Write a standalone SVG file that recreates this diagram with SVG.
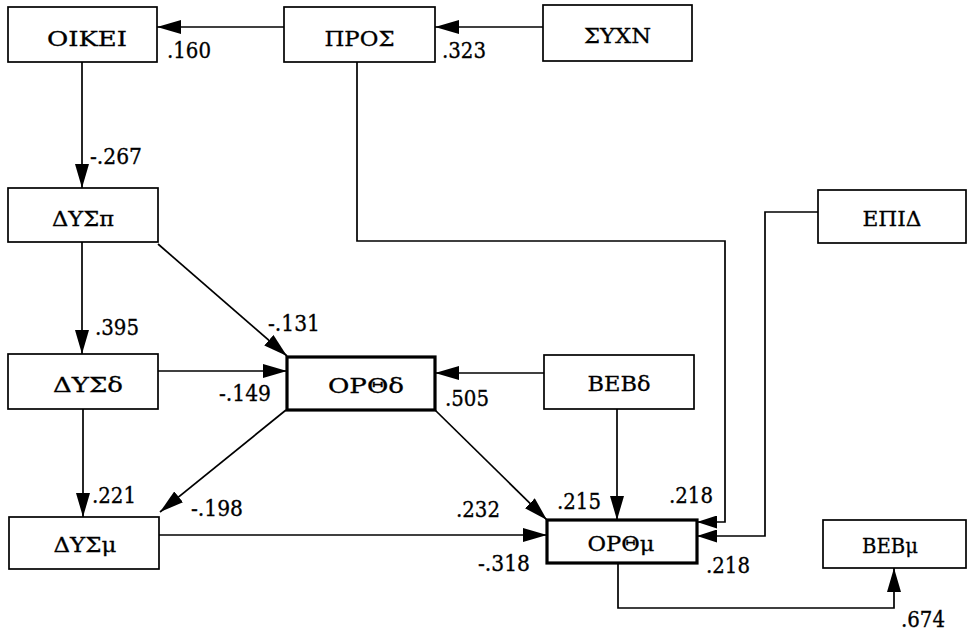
<svg xmlns="http://www.w3.org/2000/svg" width="974" height="634" viewBox="0 0 974 634">
<style>
.box{fill:#fff;stroke:#000;stroke-width:1.7}
.thick{stroke-width:3.2}
.ln{fill:none;stroke:#000;stroke-width:1.7}
</style>
<defs>
<marker id="ah" viewBox="0 0 24 14" refX="24" refY="7" markerWidth="24" markerHeight="14" markerUnits="userSpaceOnUse" orient="auto">
<path d="M0,0 L24,7 L0,14 z" fill="#000"/>
</marker>
<marker id="ahs" viewBox="0 0 20 13" refX="20" refY="6.5" markerWidth="20" markerHeight="13" markerUnits="userSpaceOnUse" orient="auto">
<path d="M0,0 L20,6.5 L0,13 z" fill="#000"/>
</marker>
</defs>
<rect width="974" height="634" fill="#fff"/>
<g id="connectors">
<line class="ln" x1="284" y1="27" x2="157" y2="27" marker-end="url(#ah)"/>
<line class="ln" x1="543" y1="27" x2="435" y2="27" marker-end="url(#ah)"/>
<line class="ln" x1="82" y1="62" x2="82" y2="188" marker-end="url(#ah)"/>
<line class="ln" x1="82" y1="242" x2="82" y2="354" marker-end="url(#ah)"/>
<line class="ln" x1="83" y1="409" x2="83" y2="517" marker-end="url(#ah)"/>
<line class="ln" x1="158" y1="244" x2="287" y2="356" marker-end="url(#ah)"/>
<line class="ln" x1="158" y1="371" x2="287" y2="371" marker-end="url(#ah)"/>
<line class="ln" x1="544" y1="373" x2="435" y2="373" marker-end="url(#ah)"/>
<line class="ln" x1="286" y1="410" x2="160" y2="512" marker-end="url(#ah)"/>
<line class="ln" x1="435" y1="410" x2="547" y2="520" marker-end="url(#ah)"/>
<line class="ln" x1="617" y1="409" x2="617" y2="520" marker-end="url(#ah)"/>
<line class="ln" x1="159" y1="535" x2="547" y2="535" marker-end="url(#ah)"/>
<polyline class="ln" points="357,62 357,241 725,241 725,522 697,522" marker-end="url(#ahs)"/>
<polyline class="ln" points="818,212 765,212 765,536 697,536" marker-end="url(#ahs)"/>
<polyline class="ln" points="618,563 618,608 894,608 894,568" marker-end="url(#ah)"/>
</g>
<g id="labels" font-family="DejaVu Serif, Liberation Serif, serif" font-size="23" fill="#000" stroke="#000" stroke-width="0.35">
<text x="167" y="58" textLength="44" lengthAdjust="spacingAndGlyphs">.160</text>
<text x="442" y="58" textLength="44" lengthAdjust="spacingAndGlyphs">.323</text>
<text x="90" y="164" textLength="52" lengthAdjust="spacingAndGlyphs">-.267</text>
<text x="95" y="335" textLength="44" lengthAdjust="spacingAndGlyphs">.395</text>
<text x="268" y="331" textLength="52" lengthAdjust="spacingAndGlyphs">-.131</text>
<text x="219" y="401" textLength="52" lengthAdjust="spacingAndGlyphs">-.149</text>
<text x="445" y="406" textLength="44" lengthAdjust="spacingAndGlyphs">.505</text>
<text x="92" y="503" textLength="44" lengthAdjust="spacingAndGlyphs">.221</text>
<text x="191" y="516" textLength="52" lengthAdjust="spacingAndGlyphs">-.198</text>
<text x="456" y="517" textLength="44" lengthAdjust="spacingAndGlyphs">.232</text>
<text x="557" y="509" textLength="44" lengthAdjust="spacingAndGlyphs">.215</text>
<text x="669" y="503" textLength="44" lengthAdjust="spacingAndGlyphs">.218</text>
<text x="478" y="571" textLength="52" lengthAdjust="spacingAndGlyphs">-.318</text>
<text x="706" y="573" textLength="44" lengthAdjust="spacingAndGlyphs">.218</text>
<text x="901" y="627" textLength="44" lengthAdjust="spacingAndGlyphs">.674</text>
</g>
<g font-family="DejaVu Serif, Liberation Serif, serif" font-size="21" fill="#000" stroke="#000" stroke-width="0.3" text-anchor="middle">
<g id="n-oikei"><rect class="box" x="8" y="7" width="149" height="55"/><text x="87" y="46" textLength="80" lengthAdjust="spacingAndGlyphs">ΟΙΚΕΙ</text></g>
<g id="n-pros"><rect class="box" x="284" y="7" width="151" height="55"/><text x="359.5" y="46" textLength="70" lengthAdjust="spacingAndGlyphs">ΠΡΟΣ</text></g>
<g id="n-sychn"><rect class="box" x="543" y="5" width="149" height="56"/><text x="617.5" y="43" textLength="67" lengthAdjust="spacingAndGlyphs">ΣΥΧΝ</text></g>
<g id="n-epid"><rect class="box" x="818" y="190" width="148" height="53"/><text x="892" y="226" textLength="59" lengthAdjust="spacingAndGlyphs">ΕΠΙΔ</text></g>
<g id="n-dyspi"><rect class="box" x="8" y="188" width="150" height="54"/><text x="83" y="226" textLength="62" lengthAdjust="spacingAndGlyphs">ΔΥΣπ</text></g>
<g id="n-dysd"><rect class="box" x="8" y="354" width="150" height="55"/><text x="88" y="392" textLength="70" lengthAdjust="spacingAndGlyphs">ΔΥΣδ</text></g>
<g id="n-orthd"><rect class="box thick" x="287" y="357" width="148" height="53"/><text x="366" y="393" textLength="76" lengthAdjust="spacingAndGlyphs">ΟΡΘδ</text></g>
<g id="n-bebd"><rect class="box" x="544" y="355" width="150" height="54"/><text x="619" y="391" textLength="63" lengthAdjust="spacingAndGlyphs">ΒΕΒδ</text></g>
<g id="n-dysm"><rect class="box" x="9" y="517" width="150" height="52"/><text x="85" y="552" textLength="63" lengthAdjust="spacingAndGlyphs">ΔΥΣμ</text></g>
<g id="n-orthm"><rect class="box thick" x="547" y="520" width="150" height="43"/><text x="621" y="551" textLength="67" lengthAdjust="spacingAndGlyphs">ΟΡΘμ</text></g>
<g id="n-bebm"><rect class="box" x="823" y="520" width="143" height="48"/><text x="890" y="553" textLength="56" lengthAdjust="spacingAndGlyphs">ΒΕΒμ</text></g>
</g>
</svg>
